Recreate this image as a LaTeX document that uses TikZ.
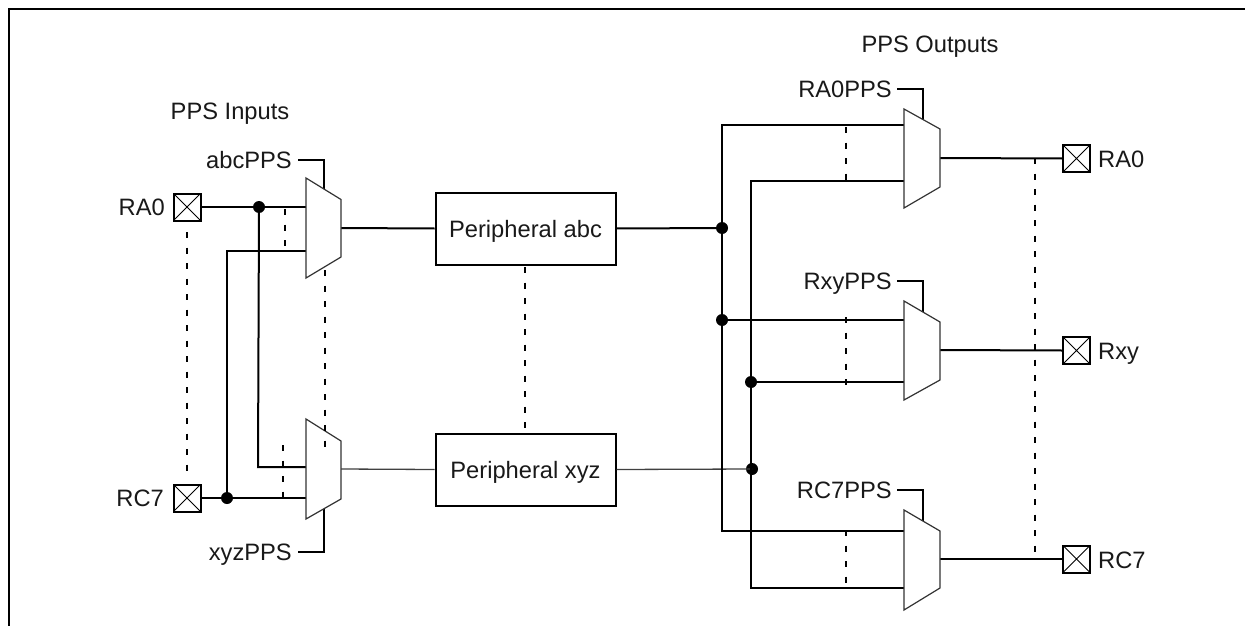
\documentclass[tikz,border=0pt]{standalone}
\usepackage{fontspec}
\setmainfont{Liberation Sans}
\tikzset{
  every node/.style={inner sep=0pt},
  txt/.style={font=\fontsize{23.7}{26}\selectfont, text=black!90, text height=17pt, text depth=0pt},
  wire/.style={line width=2pt, black},
  thinwire/.style={line width=1.3pt, black!75},
  muxshape/.style={line width=1.2pt, draw=black!80, fill=white},
  dashline/.style={line width=2pt, dash pattern=on 6pt off 9.5pt},
  padbox/.style={draw, line width=2pt, minimum width=27pt, minimum height=27pt, path picture={\draw[line width=1pt] (path picture bounding box.north west)--(path picture bounding box.south east) (path picture bounding box.north east)--(path picture bounding box.south west);}},
  periph/.style={txt, draw, line width=2pt, minimum width=180pt, minimum height=72pt, fill=white},
  junction/.style={circle, fill=black, minimum size=12pt},
  lblL/.style={txt, anchor=east},
  lblR/.style={txt, anchor=west}
}
\begin{document}
\begin{tikzpicture}[x=1pt,y=-1pt]
\useasboundingbox (0,0) rectangle (1245,626);
\fill[white] (0,0) rectangle (1245,626);
\draw[wire] (9,626) -- (9,9) -- (1245,9);
% junctions
\node[junction] (j1) at (259,207) {};
\node[junction] (j2) at (227,498) {};
\node[junction] (j3) at (722,228) {};
\node[junction] (j4) at (722,320) {};
\node[junction] (j5) at (751,382) {};
\node[junction] (j6) at (752,469) {};
% pads
\node[padbox] (pa) at (187,207) {};
\node[padbox] (pc) at (187,498) {};
\node[padbox] (oa) at (1076.5,158.5) {};
\node[padbox] (ox) at (1076.5,350.5) {};
\node[padbox] (oc) at (1076.5,559) {};
% peripherals
\node[periph] (pabc) at (525.5,228.5) {Peripheral abc};
\node[periph] (pxyz) at (525.5,469.5) {Peripheral xyz};
% labels
\node[txt] at (230,110.5) (tin) {PPS Inputs};
\node[txt] at (930,44.5) (tout) {PPS Outputs};
\node[lblL] (lra) at (165,206.5) {RA0};
\node[lblL] (lrc) at (164,498) {RC7};
\node[lblL] (labc) at (292,159.5) {abcPPS};
\node[lblL] (lxyz) at (292,551.5) {xyzPPS};
\node[lblL] (lora) at (892,88.5) {RA0PPS};
\node[lblL] (lorx) at (892,280.5) {RxyPPS};
\node[lblL] (lorc) at (892,490) {RC7PPS};
\node[lblR] (loa) at (1098,158.5) {RA0};
\node[lblR] (lox) at (1098,351) {Rxy};
\node[lblR] (loc) at (1098,560) {RC7};
% coordinates for free ends
\coordinate (m1i1) at (306,207); \coordinate (m1i2) at (306,251);
\coordinate (m2i1) at (306,467); \coordinate (m2i2) at (306,498);
\coordinate (m3i1) at (904,125); \coordinate (m3i2) at (904,181);
\coordinate (m4i1) at (904,320); \coordinate (m4i2) at (904,382);
\coordinate (m5i1) at (904,531); \coordinate (m5i2) at (904,588);
% wires
\draw[wire] (pa.east) -- (m1i1);
\draw[wire] (pc.east) -- (m2i2);
\draw[wire] (j1.center) -- (258,467) -- (m2i1);
\draw[wire] (j2.center) -- (227,251) -- (m1i2);
\draw[wire] (341,228) -- (pabc.west);
\draw[thinwire] (341,469) -- (pxyz.west);
\draw[wire] (pabc.east) -- (j3.center);
\draw[thinwire] (pxyz.east) -- (j6.center);
\draw[wire] (m3i1) -- (722,125) -- (722,531) -- (m5i1);
\draw[wire] (m3i2) -- (751,181) -- (751,588) -- (m5i2);
\draw[wire] (j4.center) -- (m4i1);
\draw[wire] (j5.center) -- (m4i2);
\draw[wire] (940,158) -- (oa.west);
\draw[wire] (940,350) -- (ox.west);
\draw[wire] (940,559) -- (oc.west);
% select lines
\draw[wire] (298,160) -- (324,160) -- (324,195);
\draw[wire] (298,552) -- (324,552) -- (324,505);
\draw[wire] (897,89) -- (923,89) -- (923,125);
\draw[wire] (897,281) -- (923,281) -- (923,317);
\draw[wire] (897,490) -- (923,490) -- (923,526);
% muxes
\draw[muxshape] (306,178) -- (341,199.5) -- (341,257) -- (306,278) -- cycle;
\draw[muxshape] (306,419) -- (341,441) -- (341,499) -- (306,519) -- cycle;
\draw[muxshape] (904,109) -- (940,129) -- (940,187) -- (904,208) -- cycle;
\draw[muxshape] (904,301) -- (940,322) -- (940,380) -- (904,400) -- cycle;
\draw[muxshape] (904,510) -- (940,531) -- (940,588) -- (904,610) -- cycle;
% dashed
\draw[dashline] (187,232) -- (187,477);
\draw[dashline] (285,209) -- (285,251);
\draw[dashline] (283,445) -- (283,498);
\draw[dashline] (325,270) -- (325,455);
\draw[dashline] (525,267) -- (525,433);
\draw[dashline] (846,127) -- (846,184);
\draw[dashline] (846,317) -- (846,386);
\draw[dashline] (846,530) -- (846,588);
\draw[dashline] (1035,158) -- (1035,559);
\end{tikzpicture}
\end{document}
